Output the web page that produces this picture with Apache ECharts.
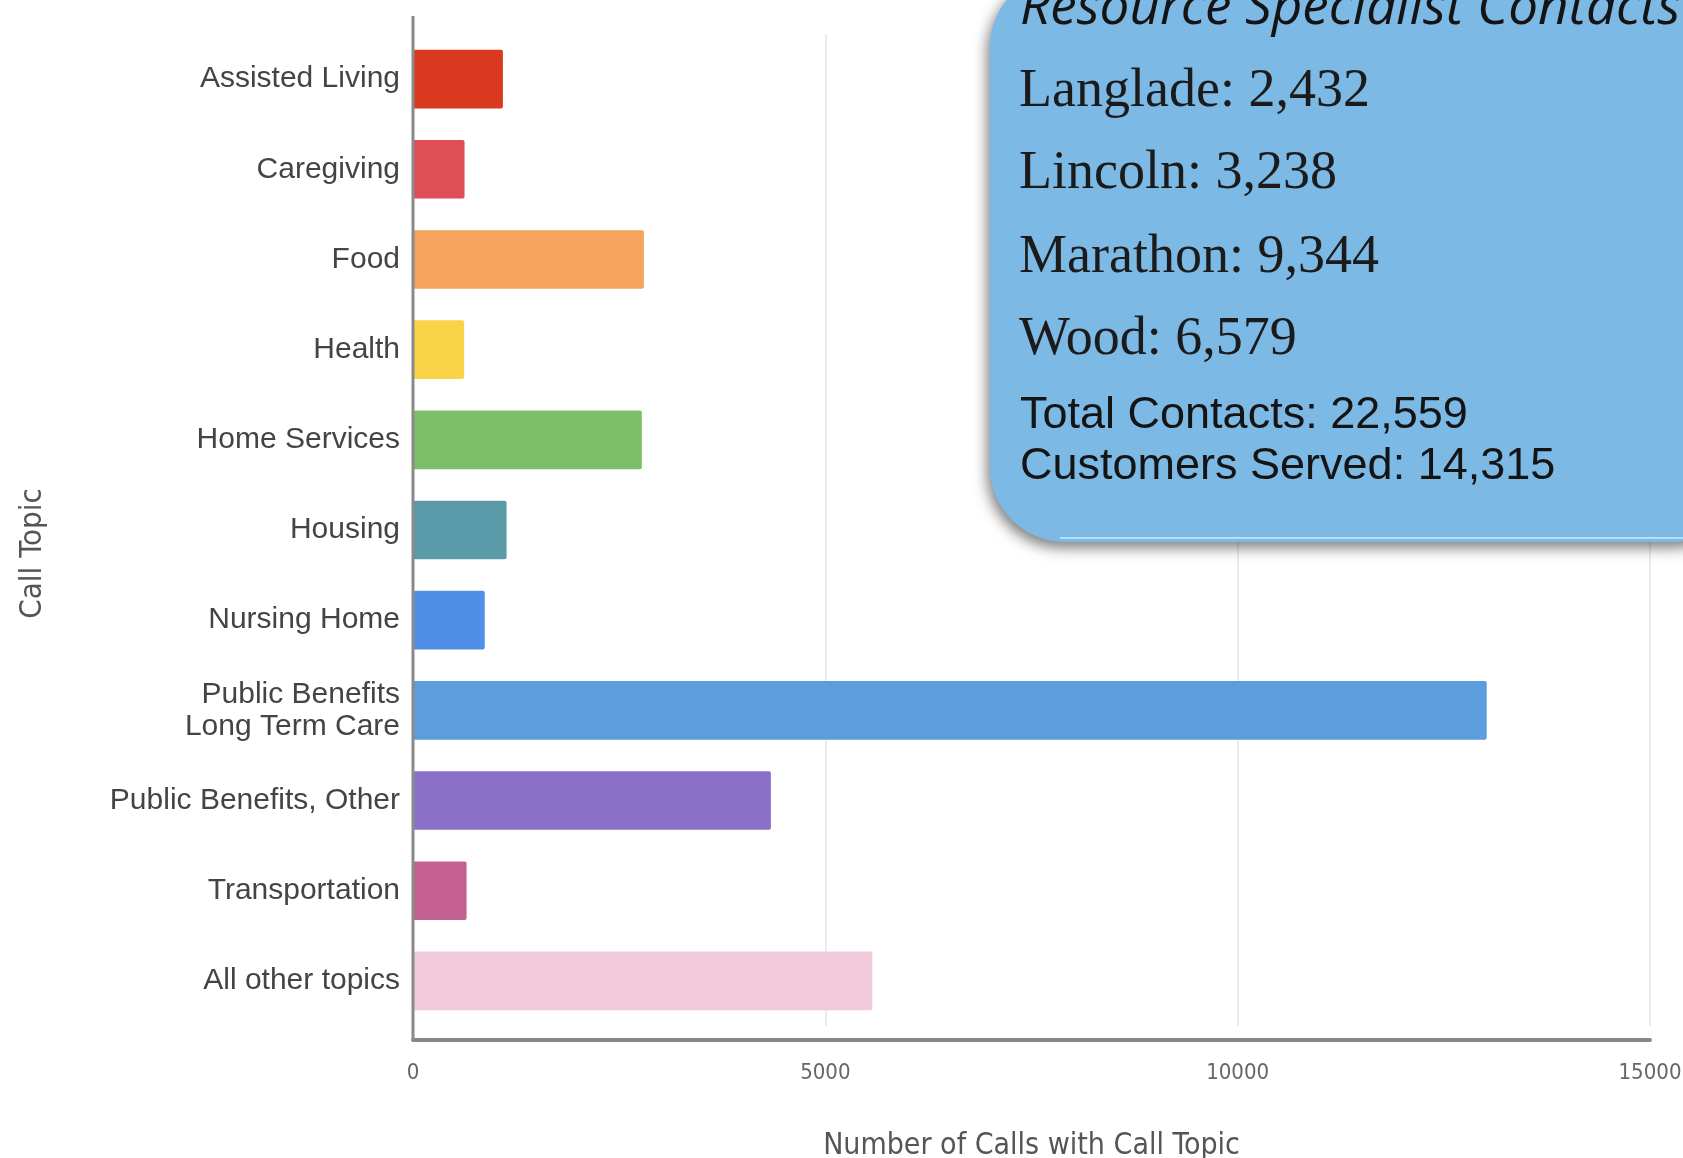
<!DOCTYPE html>
<html>
<head>
<meta charset="utf-8">
<script src="https://cdn.jsdelivr.net/npm/echarts@6/dist/echarts.min.js"></script>
<style>
  html, body { margin: 0; padding: 0; background: #ffffff; }
  #chart { width: 1683px; height: 1158px; }
</style>
</head>
<body>
<div id="chart"></div>
<script>
// Call topics, top to bottom
const topics = [
  'Assisted Living', 'Caregiving', 'Food', 'Health', 'Home Services', 'Housing',
  'Nursing Home', 'Public Benefits\nLong Term Care', 'Public Benefits, Other',
  'Transportation', 'All other topics'
];
// Number of calls per topic
const calls = [1090, 625, 2800, 620, 2775, 1135, 870, 13020, 4340, 650, 5570];
// One colour per topic bar
const topicColors = [
  '#d8391f', '#df4d57', '#f5a45d', '#fad447', '#7cbf6a', '#5b9ba9',
  '#4f8fe8', '#5c9edd', '#8a70c8', '#c4608f', '#f1cbdc'
];
// Value axis ticks
const xTicks = [0, 5000, 10000, 15000];

// Summary panel lines
const panelTitle = 'Resource Specialist Contacts';
const countyLines = ['Langlade: 2,432', 'Lincoln: 3,238', 'Marathon: 9,344', 'Wood: 6,579'];
const totalLines = ['Total Contacts: 22,559', 'Customers Served: 14,315'];

// Layout constants (px)
const H = 1158, W = 1683;
const G = { left: 413, right: 33, top: 34, bottom: 132 };
const axisDrop = 14;   // x axis sits a little below the last band
const axisTopY = 16;   // y axis line starts above the first band
const axisY = H - G.bottom + axisDrop;

const chart = echarts.init(document.getElementById('chart'), null, { renderer: 'canvas' });

const graphics = [
  // y axis line
  {
    type: 'line', z: 5,
    shape: { x1: G.left, y1: axisTopY, x2: G.left, y2: axisY },
    style: { stroke: '#8a8a8a', lineWidth: 3 }
  },
  // summary panel
  {
    type: 'rect', z: 10,
    shape: { x: 990, y: -28, width: 760, height: 570, r: 75 },
    style: {
      fill: '#7db9e5',
      shadowBlur: 14, shadowOffsetX: -3, shadowOffsetY: 6,
      shadowColor: 'rgba(0,0,0,0.5)'
    }
  },
  {
    type: 'line', z: 11,
    shape: { x1: 1060, y1: 538, x2: 1683, y2: 538 },
    style: { stroke: 'rgba(200,232,252,0.8)', lineWidth: 2 }
  },
  {
    type: 'text', z: 12, x: 1020, y: 35,
    style: {
      text: panelTitle, fill: '#141414',
      font: 'italic 400 53px "Open Sans", "DejaVu Sans", sans-serif',
      verticalAlign: 'bottom'
    }
  }
];

const countyBaselines = [109, 191, 275, 357];
countyLines.forEach(function (t, i) {
  graphics.push({
    type: 'text', z: 12, x: 1019, y: countyBaselines[i] - 17,
    style: {
      text: t, fill: '#1b1b1b',
      font: '54px "Liberation Serif", "DejaVu Serif", serif',
      verticalAlign: 'middle'
    }
  });
});
const totalBaselines = [431, 482];
totalLines.forEach(function (t, i) {
  graphics.push({
    type: 'text', z: 12, x: 1020, y: totalBaselines[i] - 15,
    style: {
      text: t, fill: '#141414',
      font: '45px "Liberation Sans", Arial, sans-serif',
      verticalAlign: 'middle'
    }
  });
});

chart.setOption({
  animation: false,
  backgroundColor: '#ffffff',
  grid: {
    left: G.left, right: G.right, top: G.top, bottom: G.bottom,
    containLabel: false, outerBoundsMode: 'none'
  },
  xAxis: {
    type: 'value',
    min: xTicks[0],
    max: xTicks[xTicks.length - 1],
    interval: xTicks[1] - xTicks[0],
    offset: axisDrop,
    name: 'Number of Calls with Call Topic',
    nameLocation: 'middle',
    nameGap: 91,
    nameTextStyle: {
      fontFamily: '"Liberation Sans Narrow", "DejaVu Sans Condensed", sans-serif',
      fontSize: 30, color: '#555555'
    },
    axisLine: { show: true, lineStyle: { color: '#868686', width: 4 } },
    axisTick: { show: false },
    axisLabel: {
      margin: 22,
      fontFamily: '"Liberation Sans Narrow", "DejaVu Sans Condensed", sans-serif',
      fontSize: 22, color: '#666666',
      formatter: function (v) { return String(v); }
    },
    splitLine: { show: true, lineStyle: { color: '#ececec', width: 2 } }
  },
  yAxis: {
    type: 'category',
    data: topics,
    inverse: true,
    name: 'Call Topic',
    nameLocation: 'middle',
    nameGap: 365,
    nameRotate: 90,
    nameTextStyle: {
      fontFamily: '"Liberation Sans Narrow", "DejaVu Sans Condensed", sans-serif',
      fontSize: 31, color: '#555555',
      padding: [0, 47, 0, 0]
    },
    axisLine: { show: false },
    axisTick: { show: false },
    axisLabel: {
      margin: 13,
      fontFamily: '"Liberation Sans", Arial, sans-serif',
      fontSize: 30, color: '#444444', lineHeight: 32
    },
    splitLine: { show: false }
  },
  series: [{
    type: 'bar',
    data: calls.map(function (v, i) {
      return { value: v, itemStyle: { color: topicColors[i] } };
    }),
    barCategoryGap: '35%',
    itemStyle: { borderRadius: 2 }
  }],
  graphic: graphics
});
</script>
</body>
</html>
